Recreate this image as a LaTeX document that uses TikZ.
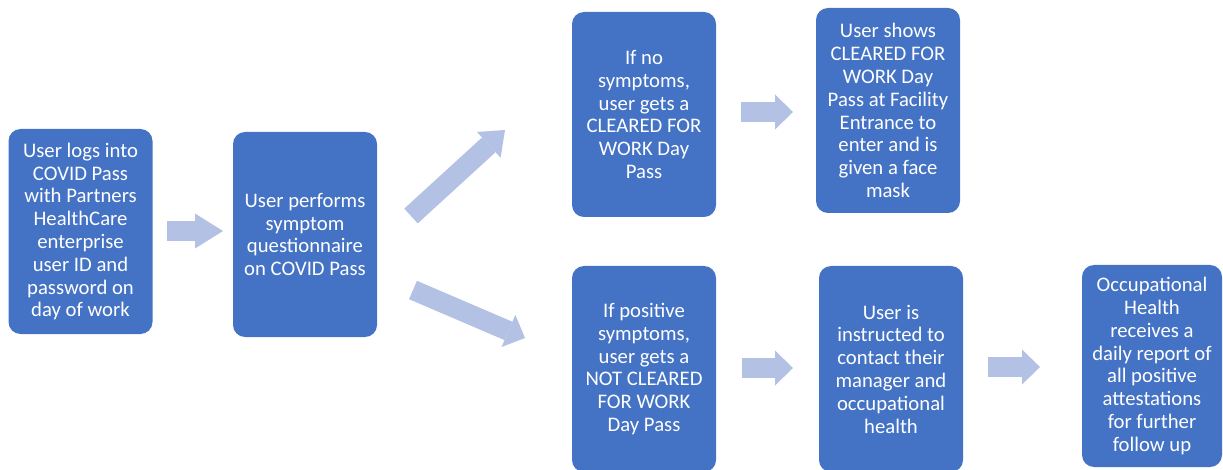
\documentclass[tikz,border=0pt]{standalone}
\usepackage{fontspec}
\setmainfont{Carlito}
\usetikzlibrary{arrows.meta}

\definecolor{boxblue}{RGB}{68,114,196}
\definecolor{arrowblue}{RGB}{178,193,228}

\begin{document}
\begin{tikzpicture}[
            x=1pt,
            y=-1pt,
            step box/.style={
                    fill=boxblue,
                    rectangle,
                    rounded corners=12pt,
                    align=center,
                    text=white,
                    inner sep=0pt,
                    font=\fontsize{20.7}{22.8}\selectfont,
                    minimum width=144pt,
                    minimum height=205pt
                },
            flow/.style={
                    draw=arrowblue,
                    line width=20pt,
                    -{Triangle[length=#1, width=35pt, line width=0pt]}
                },
            flow/.default=18pt
        ]

        \useasboundingbox (0, 0) rectangle (1223, 470);

        \node[step box] (login) at (80.5, 231.5) {User logs into\\COVID Pass\\with Partners\\HealthCare\\enterprise\\user ID and\\password on\\day of work};
        \node[step box] (survey) at (305, 234.5) {User performs\\symptom\\questionnaire\\on COVID Pass};
        \node[step box] (cleared) at (644, 114.5) {If no\\symptoms,\\user gets a\\CLEARED FOR\\WORK Day\\Pass};
        \node[step box] (entrance) at (888, 110.5) {User shows\\CLEARED FOR\\WORK Day\\Pass at Facility\\Entrance to\\enter and is\\given a face\\mask};
        \node[step box, minimum height=206pt] (notcleared) at (644, 369) {If positive\\symptoms,\\user gets a\\NOT CLEARED\\FOR WORK\\Day Pass};
        \node[step box, minimum height=206pt] (contact) at (891, 369) {User is\\instructed to\\contact their\\manager and\\occupational\\health};
        \node[step box, minimum width=140pt, minimum height=202pt] (report) at (1152, 366) {Occupational\\Health\\receives a\\daily report of\\all positive\\attestations\\for further\\follow up};

        % ---- arrow ends ----
        \coordinate (logintail) at (167, 231);
        \coordinate (logintip) at (223, 231);
        \coordinate (uptail) at (411, 216);
        \coordinate (uptip) at (505, 130);
        \coordinate (downtail) at (413, 290);
        \coordinate (downtip) at (525, 338);
        \coordinate (clearedtail) at (741, 112);
        \coordinate (clearedtip) at (793, 112);
        \coordinate (positivetail) at (742, 368);
        \coordinate (positivetip) at (793, 368);
        \coordinate (contacttail) at (988, 367);
        \coordinate (contacttip) at (1040, 367);

        \draw[flow=28pt] (logintail) -- (logintip);
        \draw[flow=22pt] (uptail) -- (uptip);
        \draw[flow] (downtail) -- (downtip);
        \draw[flow] (clearedtail) -- (clearedtip);
        \draw[flow] (positivetail) -- (positivetip);
        \draw[flow] (contacttail) -- (contacttip);

    \end{tikzpicture}
\end{document}
